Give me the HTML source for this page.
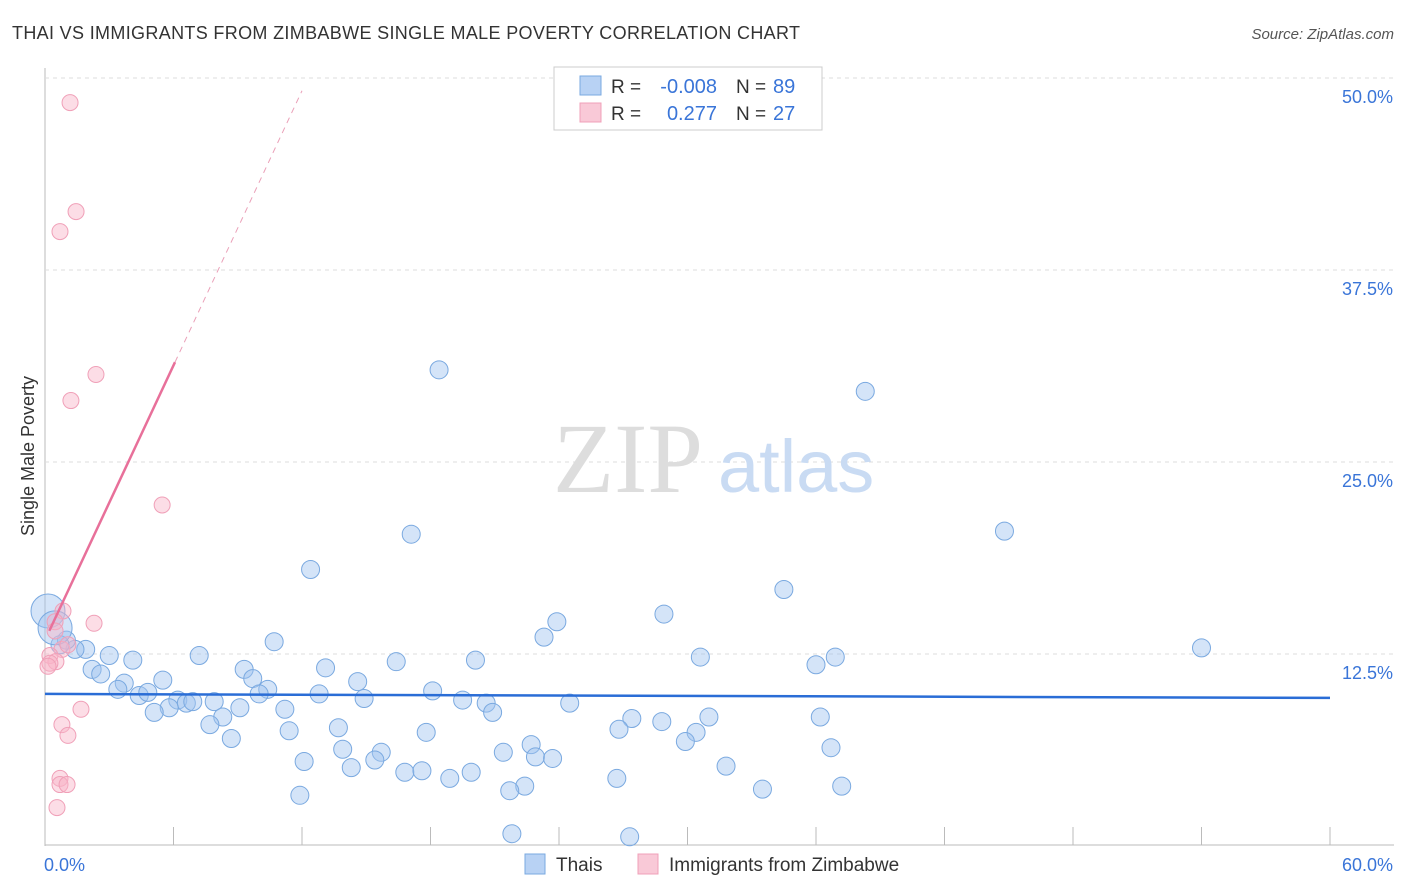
<!DOCTYPE html>
<html><head><meta charset="utf-8"><style>
body{margin:0;background:#fff;font-family:"Liberation Sans",sans-serif;}
svg{display:block}
</style></head><body>
<svg id="chart" width="1406" height="892">
<text x="12" y="39" font-size="18" fill="#333" textLength="788">THAI VS IMMIGRANTS FROM ZIMBABWE SINGLE MALE POVERTY CORRELATION CHART</text>
<text x="1394" y="39" font-size="15" fill="#555" font-style="italic" text-anchor="end">Source: ZipAtlas.com</text>
<text transform="translate(34,456) rotate(-90)" font-size="18" fill="#333" text-anchor="middle">Single Male Poverty</text>
<g id="grid"></g>
<text x="553" y="492" font-size="100" fill="#ddd" font-family="Liberation Serif,serif">ZIP</text>
<text x="718" y="492" font-size="74" fill="#c9dbf3">atlas</text>
<g id="marks"></g>
<g>
<rect x="554" y="67" width="268" height="63" fill="#fff" stroke="#ccc"/>
<rect x="580" y="76" width="21" height="19" fill="#b8d2f4" stroke="#7aa9e0"/>
<rect x="580" y="103" width="21" height="19" fill="#f9c9d7" stroke="#f0a0b8"/>
<text x="611" y="93" font-size="19" fill="#333">R =</text>
<text x="717" y="93" font-size="20" fill="#3a75d8" text-anchor="end">-0.008</text>
<text x="736" y="93" font-size="19" fill="#333">N =</text>
<text x="773" y="93" font-size="20" fill="#3a75d8">89</text>
<text x="611" y="120" font-size="19" fill="#333">R =</text>
<text x="717" y="120" font-size="20" fill="#3a75d8" text-anchor="end">0.277</text>
<text x="736" y="120" font-size="19" fill="#333">N =</text>
<text x="773" y="120" font-size="20" fill="#3a75d8">27</text>
</g>
<g>
<rect x="525" y="854" width="20" height="20" fill="#b8d2f4" stroke="#7aa9e0"/>
<text x="556" y="871" font-size="19" fill="#333">Thais</text>
<rect x="638" y="854" width="20" height="20" fill="#f9c9d7" stroke="#f0a0b8"/>
<text x="669" y="871" font-size="19" fill="#333">Immigrants from Zimbabwe</text>
</g>
</svg>
<script>
const yTicks=[12.5,25,37.5,50];
const yTickLabels=["12.5%","25.0%","37.5%","50.0%"];
const xTickLabels=["0.0%","60.0%"];
const thaiX=[18.4,38.3,17.1,44.8,12.4,34.5,28.9,23.9,23.3,10.7,54.0,36.9,36.0,30.6,20.1,16.4,13.1,7.2,4.1,3.0,1.9,1.4,1.0,0.7,2.2,2.6,5.5,9.3,9.7,10.4,14.6,18.1,12.8,14.9,20.6,24.5,19.5,10.0,3.7,3.4,4.4,4.8,6.2,6.6,6.9,7.9,5.8,5.1,9.1,11.2,8.3,7.7,11.4,8.7,13.7,17.8,20.9,27.4,28.8,31.0,36.2,26.8,30.4,29.9,22.7,21.4,13.9,15.7,22.9,23.7,15.4,12.1,14.3,16.8,17.6,18.9,19.9,31.8,26.7,22.4,21.7,33.5,37.2,36.7,11.9,21.8,27.3,0.14,0.47];
const thaiY=[31.0,29.6,20.3,20.5,18.0,16.7,15.1,14.6,13.6,13.3,12.9,12.3,11.8,12.3,12.1,12.0,11.6,12.4,12.1,12.4,12.8,12.8,13.4,13.1,11.5,11.2,10.8,11.5,10.9,10.2,10.7,10.1,9.9,9.6,9.3,9.3,9.5,9.9,10.6,10.2,9.8,10.0,9.5,9.3,9.4,9.4,9.0,8.7,9.0,8.9,8.4,7.9,7.5,7.0,7.7,7.4,8.7,8.3,8.1,8.4,8.4,7.6,7.4,6.8,6.6,6.1,6.3,6.1,5.8,5.7,5.6,5.5,5.1,4.8,4.9,4.4,4.8,5.2,4.4,3.9,3.6,3.7,3.9,6.4,3.3,0.8,0.6,15.3,14.2];
const zimX=[1.17,1.45,0.7,2.38,1.21,5.47,0.84,2.29,0.47,0.47,0.79,1.07,0.23,0.51,0.23,0.14,0.79,1.07,1.68,0.7,0.7,1.03,0.56];
const zimY=[48.4,41.3,40.0,30.7,29.0,22.2,15.3,14.5,14.6,14.0,12.8,13.1,12.4,12.0,11.9,11.7,7.9,7.2,8.9,4.4,4.0,4.0,2.5];
const thaiTrend=[9.9,9.64];
const zimTrend=[13.41,2.98];
const X=v=>45+v/60*1285, Y=v=>846-v/50*768;
const NS="http://www.w3.org/2000/svg";
const grid=document.getElementById('grid'), marks=document.getElementById('marks');
function mk(p,tag,a){const e=document.createElementNS(NS,tag);for(const k in a)e.setAttribute(k,a[k]);p.appendChild(e);return e;}
let ax=mk(grid,'line',{x1:45,y1:68,x2:45,y2:846,stroke:'#bbb'});


let bx=mk(grid,'line',{x1:45,y1:845,x2:1394,y2:845,stroke:'#bbb'});


yTicks.forEach((t,i)=>{
 let g=mk(grid,'line',{x1:45,x2:1394,y1:Y(t),y2:Y(t),stroke:'#ddd','stroke-dasharray':'4,4'});
 
 
 let l=mk(grid,'text',{x:1393,y:Y(t)+25,'font-size':18,fill:'#3a75d8','text-anchor':'end'});l.textContent=yTickLabels[i];
 
 
});
for(let i=0;i<=10;i++){let t=mk(grid,'line',{x1:X(i*6),x2:X(i*6),y1:827,y2:845,stroke:'#bbb'});
 
 }
[[0,44,'start'],[60,1393,'end']].forEach((d,i)=>{let l=mk(grid,'text',{x:d[1],y:871,'font-size':18,fill:'#3a75d8','text-anchor':d[2]});l.textContent=xTickLabels[i];
 
 });
thaiX.forEach((x,i)=>{let r=i>=87?17:9;let c=mk(marks,'circle',{cx:X(x),cy:Y(thaiY[i]),r:r,fill:'rgba(160,196,240,0.45)',stroke:'#7aa9e0','stroke-width':1});
 
 });
zimX.forEach((x,i)=>{let c=mk(marks,'circle',{cx:X(x),cy:Y(zimY[i]),r:8,fill:'rgba(248,180,200,0.45)',stroke:'#f0a0b8','stroke-width':1});
 
 });
let tl=mk(marks,'line',{x1:X(0),y1:Y(thaiTrend[0]),x2:X(60),y2:Y(thaiTrend[1]),stroke:'#2a6dd6','stroke-width':2.5});


let zs=mk(marks,'line',{x1:X(0.2),y1:Y(zimTrend[0]+zimTrend[1]*0.2),x2:X(6.07),y2:Y(zimTrend[0]+zimTrend[1]*6.07),stroke:'#e8709a','stroke-width':2.5});


let zd=mk(marks,'line',{x1:X(6.07),y1:Y(zimTrend[0]+zimTrend[1]*6.07),x2:X(12),y2:Y(zimTrend[0]+zimTrend[1]*12),stroke:'#eaa0b8','stroke-width':1,'stroke-dasharray':'6,5'});


</script>
</body></html>
